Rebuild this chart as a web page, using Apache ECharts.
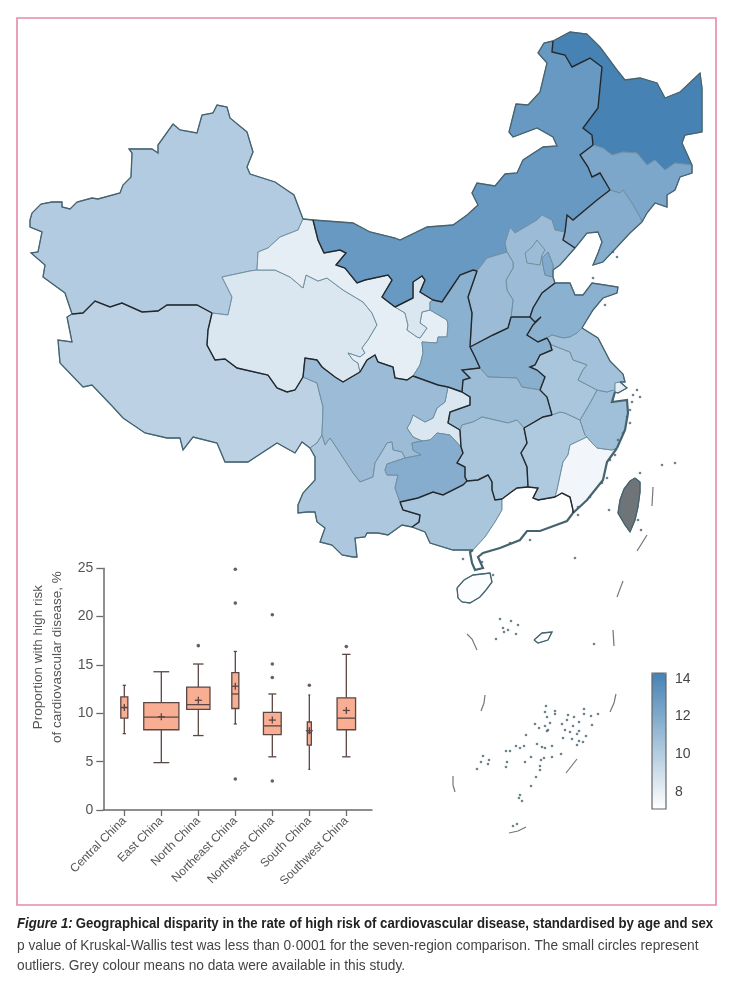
<!DOCTYPE html>
<html>
<head>
<meta charset="utf-8">
<title>Figure 1</title>
<script src="https://cdn.jsdelivr.net/npm/echarts@6/dist/echarts.min.js"></script>
<style>
html, body { margin: 0; padding: 0; background: #fff; }
#chart { width: 732px; height: 1000px; }
</style>
</head>
<body>
<div id="chart"></div>
<script>
var FONT = '"Liberation Sans", sans-serif';

// boxplot values
var categories = ['Central China', 'East China', 'North China', 'Northeast China', 'Northwest China', 'South China', 'Southwest China'];
var lows = [7.9, 4.9, 7.7, 8.9, 5.5, 4.2, 5.5];
var q1s = [9.5, 8.3, 10.4, 10.5, 7.8, 6.7, 8.3];
var medians = [10.6, 9.6, 10.9, 12.0, 8.7, 8.0, 9.5];
var q3s = [11.7, 11.1, 12.7, 14.2, 10.1, 9.1, 11.6];
var highs = [12.9, 14.3, 15.1, 16.4, 12.0, 11.9, 16.1];
var means = [10.6, 9.65, 11.35, 12.8, 9.3, 8.2, 10.3];
var boxWidths = [0.19, 0.95, 0.63, 0.19, 0.48, 0.11, 0.5];
var outliers = [[2, 17], [3, 24.9], [3, 21.4], [3, 3.2], [4, 20.2], [4, 15.1], [4, 13.7], [4, 3.0], [5, 12.9], [6, 16.9]];

// map values per province
var provinceNames = ['Xinjiang', 'Tibet', 'Qinghai', 'Gansu', 'Ningxia', 'Inner Mongolia', 'Heilongjiang', 'Jilin', 'Liaoning', 'Hebei', 'Beijing', 'Tianjin', 'Shanxi', 'Shaanxi', 'Shandong', 'Henan', 'Hubei', 'Chongqing', 'Sichuan', 'Yunnan', 'Guizhou', 'Hunan', 'Guangxi', 'Guangdong', 'Jiangxi', 'Fujian', 'Zhejiang', 'Anhui', 'Jiangsu', 'Shanghai', 'Hainan'];
var provinceValues = [10.1, 9.7, 8.5, 8.1, 8.5, 13.0, 14.3, 12.2, 11.8, 11.0, 11.0, 12.0, 11.0, 11.6, 11.6, 11.7, 10.9, 8.5, 11.0, 10.3, 11.8, 10.4, 10.4, 7.1, 10.2, 7.6, 10.8, 10.4, 10.7, 8.1, 7.2];
var colourTicks = [8, 10, 12, 14];

// traced border pieces, shared by neighbouring provinces (map units)
var arcs = {
    xj_out: [[72,314],[65,293],[43,277],[45,265],[31,253],[38,252],[42,232],[30,227],[30,220],[32,213],[41,204],[52,202],[62,202],[62,207],[70,209],[77,202],[92,198],[98,199],[120,193],[123,185],[131,177],[132,153],[129,149],[152,149],[158,153],[158,145],[173,124],[180,130],[197,133],[202,115],[213,113],[217,105],[227,107],[230,118],[247,132],[253,152],[247,167],[250,174],[275,182],[294,195],[303,219]],
    xj_gs: [[303,219],[298,230],[280,237],[268,248],[258,252],[257,270]],
    xj_qh: [[257,270],[250,271],[222,277],[232,297],[228,315],[212,313]],
    xj_xz: [[212,313],[197,305],[167,305],[158,311],[142,312],[122,303],[110,307],[95,301],[83,313],[72,314]],
    xz_out: [[72,314],[67,317],[72,342],[58,340],[60,363],[83,387],[92,385],[113,407],[123,418],[145,433],[167,438],[180,438],[183,450],[193,437],[217,443],[225,462],[248,462],[277,443],[295,453],[302,442],[310,448]],
    xz_yn: [[310,448],[317,443],[322,435]],
    xz_sc: [[322,435],[323,407],[317,383],[303,377]],
    xz_qh: [[303,377],[295,390],[287,392],[277,388],[268,375],[237,368],[225,359],[215,360],[207,345],[208,330],[212,313]],
    gs_n: [[303,219],[313,220]],
    gs_im: [[313,220],[318,240],[324,253],[340,250],[346,253],[336,265],[345,268],[357,283],[365,280],[388,275],[392,280],[382,297],[395,307]],
    gs_qh: [[257,270],[275,270],[290,277],[303,288],[306,275],[318,281],[327,278],[343,290],[363,302],[372,313],[377,325],[368,340],[362,348],[365,353],[360,357],[348,353],[353,360],[358,363],[360,372]],
    qh_sc: [[360,372],[343,382],[335,377],[322,367],[317,360],[305,358],[303,377]],
    gs_sc: [[360,372],[367,360],[375,355],[378,362],[393,367],[395,378],[407,380],[413,376]],
    gs_nx1: [[395,307],[405,313],[408,325],[407,330],[417,337],[420,338]],
    gs_nx2: [[420,338],[427,328],[420,323],[422,312],[430,310]],
    gs_sn: [[430,310],[447,320],[448,325],[447,337],[438,337],[437,343],[422,342],[423,353],[420,365],[413,376]],
    nx_im: [[395,307],[413,298],[413,282],[422,276],[425,280],[420,292],[433,300]],
    nx_sn: [[433,300],[430,302],[430,310]],
    im_sn: [[433,300],[442,302],[450,290],[460,275],[473,270],[477,271]],
    im_sx: [[477,271],[487,258],[507,252]],
    im_he: [[507,252],[505,243],[510,227],[515,233],[537,220],[542,215],[552,220],[555,230],[565,232]],
    im_ln: [[565,232],[567,215],[573,220],[597,200],[610,190]],
    im_jl: [[610,190],[600,173],[592,177],[588,167],[580,155],[593,145]],
    im_hl: [[593,145],[592,135],[583,128],[598,108],[602,67],[590,58],[572,67],[565,55],[552,52],[553,41]],
    im_out: [[313,220],[353,223],[370,232],[395,238],[400,240],[427,227],[453,225],[467,215],[478,205],[472,193],[477,183],[495,186],[505,174],[517,173],[523,160],[543,147],[557,146],[553,137],[537,128],[513,137],[509,132],[516,104],[528,105],[540,92],[547,63],[538,53],[544,43],[553,41]],
    hl_out: [[553,41],[570,32],[587,34],[600,47],[617,70],[625,80],[640,78],[657,83],[665,98],[680,92],[700,73],[702,88],[702,132],[685,135],[682,143],[692,165]],
    hl_jl: [[593,145],[603,148],[612,155],[623,152],[637,153],[647,165],[655,160],[665,170],[675,163],[692,165]],
    jl_out: [[692,165],[692,173],[680,177],[675,190],[667,195],[667,207],[655,203],[647,213],[642,222]],
    jl_ln: [[610,190],[620,193],[623,190],[632,203],[640,217],[642,222]],
    ln_out: [[642,222],[630,233],[617,247],[603,262],[593,265],[598,253],[602,242],[598,232],[587,233],[575,248]],
    ln_he: [[565,232],[563,240],[575,248]],
    he_out1: [[575,248],[560,265],[553,270]],
    tj_he: [[553,277],[545,275],[543,265],[542,258],[548,252],[553,265],[553,270]],
    tj_out: [[553,270],[553,277]],
    he_out2: [[553,277],[555,283]],
    he_sd: [[555,283],[542,293],[533,308],[530,317]],
    he_hn: [[530,317],[511,317]],
    he_sx: [[511,317],[513,300],[507,290],[506,280],[513,268],[513,262],[507,252]],
    sd_out: [[555,283],[570,283],[575,295],[583,295],[592,283],[618,287],[617,293],[603,298],[593,310],[585,323],[582,328]],
    sd_js: [[582,328],[577,333],[570,337],[563,338],[552,335],[547,338]],
    sd_hn: [[547,338],[538,342],[527,335],[533,325],[541,317],[535,322],[530,317]],
    hn_js: [[547,338],[550,343]],
    hn_ah: [[550,343],[552,350],[540,355],[535,365],[530,367],[537,370],[545,377],[540,390]],
    hn_hb: [[540,390],[522,387],[517,378],[488,377],[480,368]],
    hn_sn: [[480,368],[475,357],[470,347]],
    hn_sx: [[470,347],[493,335],[508,328],[511,317]],
    sx_sn: [[477,271],[468,297],[472,313],[470,347]],
    sn_hb: [[480,368],[462,370],[470,378],[463,380],[462,392]],
    sn_cq: [[462,392],[448,387]],
    sn_sc: [[448,387],[438,385],[413,376]],
    hb_ah: [[540,390],[547,397],[552,415]],
    hb_jx: [[552,415],[543,417],[524,428]],
    hb_hu: [[524,428],[517,420],[508,423],[482,417],[473,422],[462,425],[460,430]],
    hb_cq: [[460,430],[448,423],[450,412],[470,405],[470,397],[462,392]],
    cq_hu: [[460,430],[461,447]],
    cq_gz: [[461,447],[450,435],[437,433],[430,440],[422,441]],
    cq_sc: [[422,441],[413,437],[407,428],[410,423],[413,415],[425,422],[433,418],[437,408],[445,402],[448,387]],
    sc_gz: [[422,441],[412,443],[413,450],[421,455],[405,458]],
    sc_yn: [[405,458],[402,452],[393,450],[392,442],[387,443],[383,450],[375,463],[373,477],[360,482],[353,473],[338,450],[330,438],[325,445],[322,435]],
    yn_gz: [[405,458],[387,464],[385,470],[387,475],[398,475],[395,488],[400,502]],
    yn_gx: [[400,502],[403,510],[420,515],[419,522],[412,527]],
    yn_out: [[412,527],[402,525],[388,535],[378,533],[367,533],[365,537],[355,538],[357,557],[353,557],[342,555],[332,545],[320,542],[325,528],[317,522],[315,512],[307,512],[298,513],[298,505],[303,493],[315,480],[315,457],[310,448]],
    gz_hu: [[461,447],[463,453],[457,463],[465,467],[465,477],[467,481]],
    gz_gx: [[467,481],[463,485],[443,495],[433,492],[418,498],[400,502]],
    hu_jx: [[524,428],[527,443],[521,453],[527,467],[528,487]],
    hu_gd: [[528,487],[517,488],[510,493],[502,499]],
    hu_gx: [[502,499],[495,500],[492,490],[492,482],[488,475],[478,480],[467,481]],
    gx_gd: [[502,499],[502,510],[495,522],[485,537],[473,550]],
    gx_out: [[473,550],[453,550],[430,543],[425,532],[412,527]],
    gd_jx: [[528,487],[538,488],[533,498],[538,500],[555,497]],
    gd_fj: [[555,497],[562,493],[570,497],[573,510],[573,513]],
    gd_out: [[573,513],[567,521],[540,531],[527,531],[520,540],[500,548],[483,553],[478,557],[483,568],[475,570],[472,563],[470,552],[473,550]],
    jx_ah: [[552,415],[560,412],[565,413],[580,420]],
    jx_zj: [[580,420],[585,435],[587,437]],
    jx_fj: [[587,437],[570,445],[568,455],[563,462],[557,490],[555,497]],
    fj_zj: [[587,437],[592,443],[597,448],[612,450],[617,448]],
    fj_out: [[617,448],[607,462],[603,480],[587,500],[573,513]],
    ah_zj: [[580,420],[590,403],[597,390]],
    js_zj: [[597,390],[607,392],[613,390],[615,392]],
    zj_out: [[615,392],[612,402],[627,400],[628,413],[625,430],[617,448]],
    ah_js: [[597,390],[578,380],[583,370],[587,365],[582,363],[573,360],[570,352],[552,345],[550,343]],
    js_out: [[582,328],[598,338],[610,361],[623,374],[625,382],[620,382]],
    js_sh: [[620,382],[615,383],[615,392]],
    sh_out: [[620,382],[627,388],[618,393],[615,392]],
    hainan: [[457,588],[464,580],[473,575],[482,574],[490,573],[492,582],[486,590],[480,597],[470,603],[462,602],[458,598],[457,588]],
    taiwan: [[635,478],[640,482],[640,492],[638,507],[635,520],[630,532],[625,525],[618,513],[620,500],[624,489],[630,481],[635,478]],
    reef: [[534,640],[542,633],[552,632],[548,640],[538,643],[534,640]]
};

// which pieces close each province, "-" means walked backwards
var rings = {
    'Xinjiang': ['xj_out', 'xj_gs', 'xj_qh', 'xj_xz'],
    'Tibet': ['xz_out', 'xz_yn', 'xz_sc', 'xz_qh', 'xj_xz'],
    'Qinghai': ['gs_qh', 'qh_sc', 'xz_qh', '-xj_qh'],
    'Gansu': ['gs_nx1', 'gs_nx2', 'gs_sn', '-gs_sc', '-gs_qh', '-xj_gs', 'gs_n', 'gs_im'],
    'Ningxia': ['nx_im', 'nx_sn', '-gs_nx2', '-gs_nx1'],
    'Inner Mongolia': ['im_out', '-im_hl', '-im_jl', '-im_ln', '-im_he', '-im_sx', '-im_sn', '-nx_im', '-gs_im'],
    'Heilongjiang': ['hl_out', '-hl_jl', 'im_hl'],
    'Jilin': ['hl_jl', 'jl_out', '-jl_ln', 'im_jl'],
    'Liaoning': ['im_ln', 'jl_ln', 'ln_out', '-ln_he'],
    'Hebei': ['im_he', 'ln_he', 'he_out1', '-tj_he', 'he_out2', 'he_sd', 'he_hn', 'he_sx'],
    'Tianjin': ['tj_he', 'tj_out'],
    'Shanxi': ['sx_sn', 'hn_sx', 'he_sx', '-im_sx'],
    'Shaanxi': ['im_sn', 'sx_sn', '-hn_sn', 'sn_hb', 'sn_cq', 'sn_sc', '-gs_sn', '-nx_sn'],
    'Shandong': ['sd_out', 'sd_js', 'sd_hn', '-he_sd'],
    'Henan': ['-he_hn', '-sd_hn', 'hn_js', 'hn_ah', 'hn_hb', 'hn_sn', 'hn_sx'],
    'Hubei': ['-sn_hb', '-hn_hb', 'hb_ah', 'hb_jx', 'hb_hu', 'hb_cq'],
    'Chongqing': ['-sn_cq', '-hb_cq', 'cq_hu', 'cq_gz', 'cq_sc'],
    'Sichuan': ['-qh_sc', 'gs_sc', '-sn_sc', '-cq_sc', 'sc_gz', 'sc_yn', 'xz_sc'],
    'Yunnan': ['-sc_yn', 'yn_gz', 'yn_gx', 'yn_out', 'xz_yn'],
    'Guizhou': ['-cq_gz', 'gz_hu', 'gz_gx', '-yn_gz', '-sc_gz'],
    'Hunan': ['-hb_hu', 'hu_jx', 'hu_gd', 'hu_gx', '-gz_hu', '-cq_hu'],
    'Guangxi': ['-gz_gx', '-hu_gx', 'gx_gd', 'gx_out', '-yn_gx'],
    'Guangdong': ['-hu_gd', 'gd_jx', 'gd_fj', 'gd_out', '-gx_gd'],
    'Jiangxi': ['-hb_jx', 'jx_ah', 'jx_zj', 'jx_fj', '-gd_jx', '-hu_jx'],
    'Fujian': ['-jx_fj', 'fj_zj', 'fj_out', '-gd_fj'],
    'Zhejiang': ['ah_zj', 'js_zj', 'zj_out', '-fj_zj', '-jx_zj'],
    'Anhui': ['hn_ah', 'hb_ah', 'jx_ah', 'ah_zj', 'ah_js'],
    'Jiangsu': ['-sd_js', 'js_out', 'js_sh', '-js_zj', 'ah_js', '-hn_js'],
    'Shanghai': ['-js_sh', 'sh_out'],
    'Hainan': ['hainan'],
    'Taiwan': ['taiwan'],
    'Reef': ['reef']
};
var beijingRing = [[537,240],[545,250],[542,255],[540,265],[527,263],[525,253],[532,247],[537,240]];

var coastArcs = ['xj_out', 'xz_out', 'yn_out', 'gx_out', 'js_out', 'sh_out', 'sd_out', 'he_out1', 'he_out2', 'tj_out', 'ln_out', 'jl_out', 'hl_out', 'im_out', 'gs_n', 'hainan', 'reef', 'taiwan'];
var heavyCoastArcs = ['gd_out', 'fj_out', 'zj_out'];
var regionArcs = ['xj_xz', 'xz_qh', 'qh_sc', 'gs_sc', 'gs_im', 'nx_im', 'im_sn', 'sx_sn', 'hn_sx', 'hn_sn', 'sn_hb', 'sn_cq', 'sn_sc', 'im_ln', 'im_jl', 'im_hl', 'ln_he', 'he_sd', 'he_hn', 'sd_hn', 'hn_js', 'hn_ah', 'hb_ah', 'hb_jx', 'hb_cq', 'cq_hu', 'gz_hu', 'gz_gx', 'yn_gx', 'hu_jx', 'hu_gd', 'hu_gx', 'gd_jx', 'gd_fj'];

// nine dashes and small islands
var dashes = [
    [[653,487],[652,506]], [[647,535],[637,551]], [[623,581],[617,597]], [[613,630],[614,646]],
    [[467,634],[472,639],[477,650]], [[485,695],[484,703],[481,711]], [[616,694],[614,703],[610,712]],
    [[577,759],[566,773]], [[453,776],[453,785],[455,792]], [[509,833],[518,831],[526,827]]
];
var islands = [[500,619],[511,621],[518,625],[503,628],[504,632],[508,630],[516,634],[496,639],[594,644],[546,706],[545,712],[555,711],[555,714],[547,717],[568,715],[567,720],[574,717],[584,709],[584,714],[591,716],[598,714],[579,722],[562,724],[573,726],[592,725],[535,724],[545,726],[550,723],[539,728],[547,731],[548,730],[565,730],[570,732],[579,731],[577,734],[586,736],[563,738],[572,739],[579,741],[583,742],[577,745],[526,735],[537,744],[542,747],[545,748],[552,746],[516,746],[520,748],[524,746],[506,751],[510,751],[483,756],[489,760],[481,762],[488,764],[477,769],[507,762],[506,767],[531,757],[525,762],[544,758],[552,757],[561,754],[541,760],[540,766],[540,770],[536,777],[531,786],[520,795],[519,798],[522,801],[517,824],[513,826],[637,390],[633,395],[640,397],[632,402],[630,410],[627,417],[630,423],[623,433],[618,440],[610,460],[615,455],[607,478],[602,483],[590,497],[578,507],[578,515],[609,510],[640,473],[662,465],[675,463],[638,520],[641,530],[617,257],[613,252],[605,305],[593,278],[530,540],[510,543],[463,559],[482,562],[493,575],[575,558]];

function toGeo(p) {
    return [p[0], -p[1]];
}
function arcCoords(names) {
    return names.map(function (name) {
        return { coords: arcs[name].map(toGeo) };
    });
}
function buildRing(parts) {
    var ring = [];
    parts.forEach(function (part) {
        var pts = part.charAt(0) === '-' ? arcs[part.slice(1)].slice().reverse() : arcs[part];
        ring = ring.concat(pts);
    });
    return ring.map(toGeo);
}

var features = Object.keys(rings).map(function (name) {
    return { type: 'Feature', properties: { name: name }, geometry: { type: 'Polygon', coordinates: [buildRing(rings[name])] } };
});
features.push({ type: 'Feature', properties: { name: 'Beijing' }, geometry: { type: 'Polygon', coordinates: [beijingRing.map(toGeo)] } });
echarts.registerMap('chinaTraced', { type: 'FeatureCollection', features: features });

var mapData = provinceNames.map(function (name, i) {
    return { name: name, value: provinceValues[i] };
});
var boxData = categories.map(function (c, i) {
    return [i, lows[i], q1s[i], medians[i], q3s[i], highs[i], means[i], boxWidths[i]];
});

function renderBox(params, api) {
    var i = api.value(0);
    var half = api.value(7) / 2;
    var capHalf = half * 0.45;
    var stroke = { stroke: '#5b4644', lineWidth: 1.3, fill: null };
    function pt(dx, v) {
        return api.coord([i + dx, v]);
    }
    function seg(a, b) {
        return { type: 'line', shape: { x1: a[0], y1: a[1], x2: b[0], y2: b[1] }, style: stroke };
    }
    var low = api.value(1), q1 = api.value(2), med = api.value(3), q3 = api.value(4), high = api.value(5), mean = api.value(6);
    var tl = pt(-half, q3), br = pt(half, q1);
    var m = pt(0, mean);
    return {
        type: 'group',
        children: [
            seg(pt(0, low), pt(0, q1)),
            seg(pt(0, q3), pt(0, high)),
            seg(pt(-capHalf, low), pt(capHalf, low)),
            seg(pt(-capHalf, high), pt(capHalf, high)),
            { type: 'rect', shape: { x: tl[0], y: tl[1], width: br[0] - tl[0], height: br[1] - tl[1] }, style: { fill: '#f7ae92', stroke: '#5b4644', lineWidth: 1.3 } },
            seg(pt(-half, med), pt(half, med)),
            seg([m[0] - 3.5, m[1]], [m[0] + 3.5, m[1]]),
            seg([m[0], m[1] - 3.5], [m[0], m[1] + 3.5])
        ]
    };
}

var myChart = echarts.init(document.getElementById('chart'));

var option = {
    backgroundColor: '#fff',
    animation: false,
    textStyle: { fontFamily: FONT },
    geo: {
        map: 'chinaTraced',
        left: 0,
        top: 0,
        width: 732,
        height: 1000,
        aspectScale: 1,
        boundingCoords: [[0, 0], [732, -1000]],
        silent: true,
        label: { show: false },
        itemStyle: { areaColor: '#fff', borderColor: '#6f8fa0', borderWidth: 1 },
        regions: [
            { name: 'Taiwan', itemStyle: { areaColor: '#6e7478', borderColor: '#5f6b70' } },
            { name: 'Reef', itemStyle: { areaColor: '#fff' } }
        ]
    },
    grid: [
        { left: 103.3, top: 568.3, width: 268.7, height: 241.7 },
        { left: 652, top: 673, width: 14, height: 136, show: true, z: 10, borderColor: '#666', borderWidth: 1.2, backgroundColor: 'transparent' }
    ],
    xAxis: [
        {
            type: 'value',
            gridIndex: 0,
            min: -0.568,
            max: 6.694,
            splitLine: { show: false },
            axisLine: { lineStyle: { color: '#6a6a6a', width: 1.5 } },
            axisTick: { length: 6, customValues: [0, 1, 2, 3, 4, 5, 6], lineStyle: { color: '#6a6a6a', width: 1.3 } },
            axisLabel: {
                customValues: [0, 1, 2, 3, 4, 5, 6],
                rotate: 45,
                color: '#555',
                fontSize: 12,
                margin: 9,
                formatter: function (v) { return categories[v]; }
            }
        },
        { type: 'value', gridIndex: 1, show: false, min: 0, max: 1 }
    ],
    yAxis: [
        {
            type: 'value',
            gridIndex: 0,
            min: 0,
            max: 25,
            interval: 5,
            name: 'Proportion with high risk\nof cardiovascular disease, %',
            nameLocation: 'middle',
            nameRotate: 90,
            nameGap: 37,
            nameTextStyle: { color: '#555', fontSize: 13.5, lineHeight: 19, padding: [0, 0, 0, 64] },
            splitLine: { show: false },
            axisLine: { show: true, onZero: false, lineStyle: { color: '#6a6a6a', width: 1.5 } },
            axisTick: { show: true, length: 7, lineStyle: { color: '#6a6a6a', width: 1.3 } },
            axisLabel: { color: '#555', fontSize: 14, margin: 10 }
        },
        {
            type: 'value',
            gridIndex: 1,
            position: 'right',
            min: 7.1,
            max: 14.3,
            splitLine: { show: false },
            axisLine: { show: false },
            axisTick: { show: true, length: 7, customValues: colourTicks, lineStyle: { color: '#555', width: 1.2 } },
            axisLabel: { customValues: colourTicks, color: '#444', fontSize: 14, margin: 9 }
        }
    ],
    visualMap: {
        type: 'continuous',
        seriesIndex: 0,
        min: 7.1,
        max: 14.3,
        left: 652,
        top: 673,
        itemWidth: 14,
        itemHeight: 136,
        padding: 0,
        text: null,
        showLabel: false,
        calculable: false,
        hoverLink: false,
        inRange: { color: ['#ffffff', '#4682b4'] }
    },
    series: [
        { type: 'map', geoIndex: 0, data: mapData, silent: true },
        {
            type: 'lines', coordinateSystem: 'geo', polyline: true, silent: true, z: 5,
            data: arcCoords(coastArcs),
            lineStyle: { color: '#46646f', width: 1.3, opacity: 1 }
        },
        {
            type: 'lines', coordinateSystem: 'geo', polyline: true, silent: true, z: 5,
            data: arcCoords(heavyCoastArcs),
            lineStyle: { color: '#46646f', width: 2.2, opacity: 1 }
        },
        {
            type: 'lines', coordinateSystem: 'geo', polyline: true, silent: true, z: 6,
            data: arcCoords(regionArcs),
            lineStyle: { color: '#23282c', width: 1.4, opacity: 1 }
        },
        {
            type: 'lines', coordinateSystem: 'geo', polyline: true, silent: true, z: 5,
            data: dashes.map(function (d) { return { coords: d.map(toGeo) }; }),
            lineStyle: { color: '#777', width: 1.2, opacity: 1 }
        },
        {
            type: 'scatter', coordinateSystem: 'geo', silent: true, z: 5,
            symbolSize: 2.6,
            data: islands.map(toGeo),
            itemStyle: { color: '#46646f' }
        },
        {
            type: 'custom', xAxisIndex: 0, yAxisIndex: 0, silent: true, z: 7,
            renderItem: renderBox,
            encode: { x: 0, y: [1, 2, 3, 4, 5] },
            data: boxData
        },
        {
            type: 'scatter', xAxisIndex: 0, yAxisIndex: 0, silent: true, z: 7,
            symbolSize: 3.6,
            data: outliers,
            itemStyle: { color: '#4a3336' }
        }
    ],
    graphic: [
        { type: 'rect', shape: { x: 17, y: 18, width: 699, height: 887 }, style: { fill: 'none', stroke: '#e58aa6', lineWidth: 1.6 }, silent: true },
        {
            type: 'text', x: 17, y: 916, scaleX: 0.88,
            style: {
                text: '{i|Figure 1:} {b|Geographical disparity in the rate of high risk of cardiovascular disease, standardised by age and sex}',
                rich: {
                    i: { fontFamily: FONT, fontStyle: 'italic', fontWeight: 'bold', fontSize: 15, fill: '#222' },
                    b: { fontFamily: FONT, fontWeight: 'bold', fontSize: 15, fill: '#222' }
                }
            }
        },
        { type: 'text', x: 17, y: 938, scaleX: 0.915, style: { text: 'p value of Kruskal-Wallis test was less than 0·0001 for the seven-region comparison. The small circles represent', fontFamily: FONT, fontSize: 15, fill: '#444' } },
        { type: 'text', x: 17, y: 958, scaleX: 0.915, style: { text: 'outliers. Grey colour means no data were available in this study.', fontFamily: FONT, fontSize: 15, fill: '#444' } }
    ]
};

myChart.setOption(option);
</script>
</body>
</html>
